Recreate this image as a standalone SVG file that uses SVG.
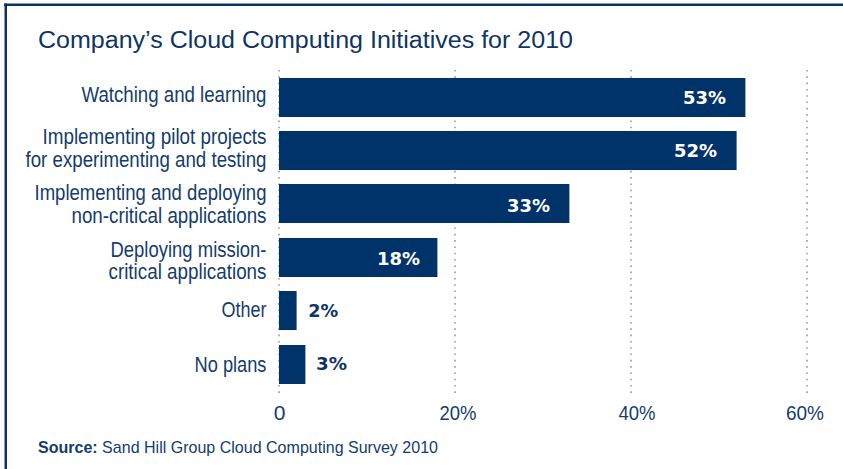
<svg xmlns="http://www.w3.org/2000/svg" width="843" height="469" viewBox="0 0 843 469">
<style>
.frame{fill:#0b3466}
.grid{stroke:#9a9a9a;stroke-width:1.6;stroke-dasharray:1.6 4.7;fill:none}
.bar{fill:#00336a}
.cat{font-family:"Liberation Sans",Arial,sans-serif;font-size:22px;fill:#143c6e;text-anchor:end}
.val{font-family:"DejaVu Sans",Verdana,sans-serif;font-weight:bold;font-size:17px}
.vin{fill:#ffffff;text-anchor:end}
.vout{fill:#0f3566;text-anchor:start}
.axis{font-family:"Liberation Sans",Arial,sans-serif;font-size:21px;fill:#143c6e;text-anchor:middle}
.title{font-family:"Liberation Sans",Arial,sans-serif;font-size:23px;fill:#0f3563}
.src{font-family:"Liberation Sans",Arial,sans-serif;font-size:17px;fill:#143c6e}
</style>
<rect width="843" height="469" fill="#ffffff"/>
<g id="frame">
<rect class="frame" x="4" y="3.5" width="839" height="2.5"/>
<rect class="frame" x="4.5" y="3.5" width="2.5" height="465.5"/>
</g>
<text id="title" class="title" x="38" y="47.5" textLength="535" lengthAdjust="spacingAndGlyphs">Company’s Cloud Computing Initiatives for 2010</text>
<g id="gridlines">
<line class="grid" x1="279" y1="70" x2="279" y2="393"/>
<line class="grid" x1="455" y1="70" x2="455" y2="393"/>
<line class="grid" x1="631" y1="70" x2="631" y2="393"/>
<line class="grid" x1="807" y1="70" x2="807" y2="393"/>
</g>
<g id="row-watching">
<rect class="bar" x="279" y="78" width="466.4" height="39"/>
<text class="cat" x="266.5" y="102" textLength="185" lengthAdjust="spacingAndGlyphs">Watching and learning</text>
<text class="val vin" x="726" y="104" textLength="43" lengthAdjust="spacingAndGlyphs">53%</text>
</g>
<g id="row-pilot">
<rect class="bar" x="279" y="131" width="457.6" height="39"/>
<text class="cat" x="266.5" y="144" textLength="224" lengthAdjust="spacingAndGlyphs">Implementing pilot projects</text>
<text class="cat" x="266.5" y="167" textLength="241" lengthAdjust="spacingAndGlyphs">for experimenting and testing</text>
<text class="val vin" x="717" y="157" textLength="43" lengthAdjust="spacingAndGlyphs">52%</text>
</g>
<g id="row-noncritical">
<rect class="bar" x="279" y="184" width="290.4" height="39"/>
<text class="cat" x="266.5" y="200" textLength="232" lengthAdjust="spacingAndGlyphs">Implementing and deploying</text>
<text class="cat" x="266.5" y="223" textLength="195" lengthAdjust="spacingAndGlyphs">non-critical applications</text>
<text class="val vin" x="550" y="212" textLength="43" lengthAdjust="spacingAndGlyphs">33%</text>
</g>
<g id="row-mission">
<rect class="bar" x="279" y="238" width="158.4" height="39"/>
<text class="cat" x="266.5" y="256.5" textLength="156" lengthAdjust="spacingAndGlyphs">Deploying mission-</text>
<text class="cat" x="266.5" y="279" textLength="158" lengthAdjust="spacingAndGlyphs">critical applications</text>
<text class="val vin" x="420" y="264.5" textLength="43" lengthAdjust="spacingAndGlyphs">18%</text>
</g>
<g id="row-other">
<rect class="bar" x="279" y="291" width="17.6" height="39"/>
<text class="cat" x="266.5" y="316.5" textLength="45" lengthAdjust="spacingAndGlyphs">Other</text>
<text class="val vout" x="308.3" y="316.5" textLength="30" lengthAdjust="spacingAndGlyphs">2%</text>
</g>
<g id="row-noplans">
<rect class="bar" x="279" y="345" width="26.4" height="39"/>
<text class="cat" x="266.5" y="371.5" textLength="72" lengthAdjust="spacingAndGlyphs">No plans</text>
<text class="val vout" x="316" y="370" textLength="31" lengthAdjust="spacingAndGlyphs">3%</text>
</g>
<g id="axis-labels">
<text class="axis" x="279.6" y="420">0</text>
<text class="axis" x="458" y="420" textLength="37" lengthAdjust="spacingAndGlyphs">20%</text>
<text class="axis" x="637" y="420" textLength="37" lengthAdjust="spacingAndGlyphs">40%</text>
<text class="axis" x="805" y="420" textLength="38" lengthAdjust="spacingAndGlyphs">60%</text>
</g>
<text id="source" class="src" x="38" y="453" textLength="400" lengthAdjust="spacingAndGlyphs"><tspan font-weight="bold">Source:</tspan> Sand Hill Group Cloud Computing Survey 2010</text>
</svg>
